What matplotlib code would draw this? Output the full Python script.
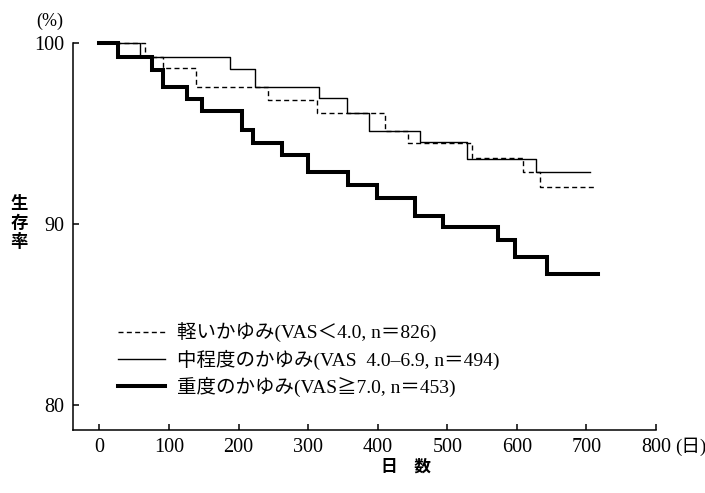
import matplotlib
matplotlib.use("Agg")
import matplotlib.pyplot as plt

# ---- data ----
mild_days = [0, 65, 91, 139, 242, 313, 410, 443, 535, 609, 633, 711]
mild_surv = [100, 99.23, 98.58, 97.57, 96.84, 96.11, 95.15, 94.45, 93.62, 92.88, 92.06, 92.06]

moderate_days = [0, 58, 188, 223, 316, 356, 388, 461, 528, 627, 705]
moderate_surv = [100, 99.23, 98.53, 97.57, 96.96, 96.12, 95.15, 94.52, 93.61, 92.88, 92.88]

severe_days = [0, 26, 75, 91, 126, 147, 205, 221, 262, 300, 357, 399, 453, 494, 573, 597, 644, 716]
severe_surv = [100, 99.23, 98.52, 97.57, 96.92, 96.21, 95.18, 94.45, 93.81, 92.89, 92.15, 91.42,
               90.44, 89.85, 89.12, 88.20, 87.22, 87.22]

labels = ["軽いかゆみ(VAS＜4.0, n＝826)",
          "中程度のかゆみ(VAS  4.0–6.9, n＝494)",
          "重度のかゆみ(VAS≧7.0, n＝453)"]

x_ticks = [0, 100, 200, 300, 400, 500, 600, 700, 800]
y_ticks = [80, 90, 100]

SERIF_CJK = ["Liberation Serif", "Noto Sans CJK JP"]
CJK = ["Noto Sans CJK JP", "DejaVu Sans"]

fig = plt.figure(figsize=(7.05, 4.93), dpi=100)
ax = fig.add_axes([73 / 705, 1 - 430 / 493, (656 - 73) / 705, (430 - 42.7) / 493])

ax.step(mild_days, mild_surv, where="post", color="black", lw=1.0,
        linestyle=(0, (3.6, 2.4)), clip_on=False, label=labels[0])
ax.step(moderate_days, moderate_surv, where="post", color="black", lw=1.0,
        clip_on=False, label=labels[1])
ax.step(severe_days, severe_surv, where="post", color="black", lw=2.9,
        clip_on=False, label=labels[2], solid_joinstyle="miter")

ax.set_xlim(-38, 800)
ax.set_ylim(78.64, 100)
ax.set_xticks(x_ticks)
ax.set_yticks(y_ticks)
ax.set_xticklabels([str(v) for v in x_ticks], family="Liberation Serif", fontsize=14.5)
ax.set_yticklabels([str(v) for v in y_ticks], family="Liberation Serif", fontsize=14.5)
ax.tick_params(direction="in", length=4, width=1.1, pad=6)
for s in ["top", "right"]:
    ax.spines[s].set_visible(False)
for s in ["left", "bottom"]:
    ax.spines[s].set_linewidth(1.1)

fig.text(50 / 705, 1 - 21 / 493, "(%)", family="Liberation Serif", fontsize=13,
         ha="center", va="center")
fig.text(19 / 705, 1 - 223 / 493, "生\n存\n率", family=CJK, fontsize=12.5, fontweight="bold",
         ha="center", va="center", linespacing=1.1)
fig.text(406 / 705, 1 - 467 / 493, "日　数", family=CJK, fontsize=12, fontweight="bold",
         ha="center", va="center")
fig.text(675 / 705, 1 - 447 / 493, "(日)", family=SERIF_CJK, fontsize=13.5,
         ha="left", va="center")

leg = ax.legend(loc="upper left", bbox_to_anchor=(118 / 705, 1 - 323 / 493),
                bbox_transform=fig.transFigure, frameon=False,
                prop={"family": SERIF_CJK, "size": 14},
                handlelength=2.42, handletextpad=0.6, labelspacing=0.34,
                borderpad=0, borderaxespad=0)

fig.savefig("out.png", dpi=100)
